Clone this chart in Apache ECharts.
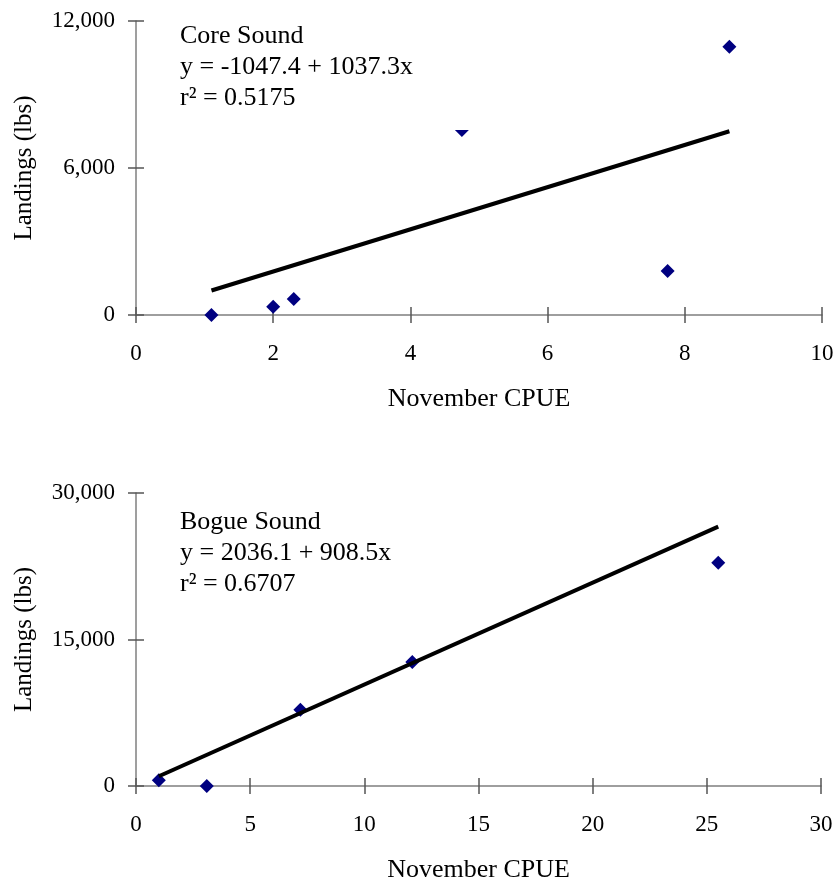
<!DOCTYPE html>
<html>
<head>
<meta charset="utf-8">
<script src="https://cdn.jsdelivr.net/npm/echarts@6/dist/echarts.min.js"></script>
<style>
  html, body { margin: 0; padding: 0; background: #fff; }
  #main { width: 838px; height: 884px; }
</style>
</head>
<body>
<div id="main"></div>
<script>
// 数据：Core Sound（上图）
const coreCpue = [1.1, 2.0, 2.3, 4.75, 7.75, 8.65];
const coreLandings = [0, 340, 650, 7550, 1800, 10950];
const coreFitCpue = [1.1, 8.65];
const coreFitLandings = [1000, 7500];

// 数据：Bogue Sound（下图）
const bogueCpue = [1.0, 3.1, 7.2, 12.1, 25.5];
const bogueLandings = [600, 0, 7800, 12700, 22850];
const bogueFitCpue = [1.0, 25.5];
const bogueFitLandings = [1000, 26550];

// 坐标轴刻度：min, max, interval
const coreXTicks = [0, 10, 2];
const coreYTicks = [0, 12000, 6000];
const bogueXTicks = [0, 30, 5];
const bogueYTicks = [0, 30000, 15000];

const coreText = ['Core Sound', 'y = -1047.4 + 1037.3x', 'r² = 0.5175'];
const bogueText = ['Bogue Sound', 'y = 2036.1 + 908.5x', 'r² = 0.6707'];

const FONT = "'Liberation Serif', 'Times New Roman', serif";

function pairs(xs, ys) {
  return xs.map((x, i) => [x, ys[i]]);
}

function fmt(v) {
  return v.toLocaleString('en-US');
}

const tickStyle = { color: '#555', width: 1.5 };

// 主坐标轴（刻度朝外，带标签）
function xAxisMain(grid, t) {
  return {
    type: 'value', gridIndex: grid, min: t[0], max: t[1], interval: t[2],
    name: 'November CPUE', nameLocation: 'middle', nameGap: 71,
    nameTextStyle: { fontFamily: FONT, fontSize: 26, color: '#000' },
    axisLine: { show: true, onZero: false, lineStyle: { color: '#7f7f7f', width: 1.5 } },
    axisTick: { show: true, length: 8, lineStyle: tickStyle },
    axisLabel: { fontFamily: FONT, fontSize: 23, color: '#000', margin: 27 },
    splitLine: { show: false }
  };
}
function yAxisMain(grid, t) {
  return {
    type: 'value', gridIndex: grid, min: t[0], max: t[1], interval: t[2],
    name: 'Landings (lbs)', nameLocation: 'middle', nameGap: 99,
    nameTextStyle: { fontFamily: FONT, fontSize: 25, color: '#000' },
    axisLine: { show: true, onZero: false, lineStyle: { color: '#7f7f7f', width: 1.5 } },
    axisTick: { show: true, length: 8, lineStyle: tickStyle },
    axisLabel: { fontFamily: FONT, fontSize: 23, color: '#000', margin: 21, formatter: fmt },
    splitLine: { show: false }
  };
}
// 辅助坐标轴：只画朝内的刻度，和主轴拼成十字刻度
function xAxisInner(grid, t) {
  return {
    type: 'value', gridIndex: grid, min: t[0], max: t[1], interval: t[2], position: 'bottom',
    axisLine: { show: false, onZero: false },
    axisTick: { show: true, inside: true, length: 8, lineStyle: tickStyle },
    axisLabel: { show: false }, splitLine: { show: false }
  };
}
function yAxisInner(grid, t) {
  return {
    type: 'value', gridIndex: grid, min: t[0], max: t[1], interval: t[2], position: 'left',
    axisLine: { show: false, onZero: false },
    axisTick: { show: true, inside: true, length: 8, lineStyle: tickStyle },
    axisLabel: { show: false }, splitLine: { show: false }
  };
}

function scatter(xi, yi, data) {
  return {
    type: 'scatter', xAxisIndex: xi, yAxisIndex: yi, data: data,
    symbol: 'diamond', symbolSize: 14,
    itemStyle: { color: '#000080', opacity: 1 }, z: 3, silent: true
  };
}
function fitLine(xi, yi, data) {
  return {
    type: 'line', xAxisIndex: xi, yAxisIndex: yi, data: data,
    showSymbol: false, symbol: 'none',
    lineStyle: { color: '#000', width: 4 }, z: 4, silent: true
  };
}

// 文本框：三行文字，y 为每行文字的中心
function annotation(x, ys, lines) {
  return lines.map((s, i) => ({
    type: 'text', x: x, y: ys[i], z: 101, silent: true,
    style: { text: s, fontFamily: FONT, fontSize: 26, fill: '#000', verticalAlign: 'middle' }
  }));
}

const chart = echarts.init(document.getElementById('main'), null, { renderer: 'canvas' });

const option = {
  backgroundColor: '#fff',
  animation: false,
  grid: [
    { left: 136, right: 16, top: 21, height: 294 },
    { left: 136, right: 17, top: 493, height: 294 }
  ],
  xAxis: [
    xAxisMain(0, coreXTicks), xAxisMain(1, bogueXTicks),
    xAxisInner(0, coreXTicks), xAxisInner(1, bogueXTicks)
  ],
  yAxis: [
    yAxisMain(0, coreYTicks), yAxisMain(1, bogueYTicks),
    yAxisInner(0, coreYTicks), yAxisInner(1, bogueYTicks)
  ],
  series: [
    scatter(0, 0, pairs(coreCpue, coreLandings)),
    fitLine(0, 0, pairs(coreFitCpue, coreFitLandings)),
    scatter(1, 1, pairs(bogueCpue, bogueLandings)),
    fitLine(1, 1, pairs(bogueFitCpue, bogueFitLandings))
  ],
  graphic: [
    // 上图文本框的白底，和原图一样盖住了下面那个点的上半部分
    { type: 'rect', x: 172, y: 24, z: 100, silent: true,
      shape: { width: 308, height: 106 }, style: { fill: '#fff' } }
  ].concat(
    annotation(180, [36, 67.5, 98.5], coreText),
    annotation(180, [522, 553, 584], bogueText)
  )
};

chart.setOption(option);
</script>
</body>
</html>
